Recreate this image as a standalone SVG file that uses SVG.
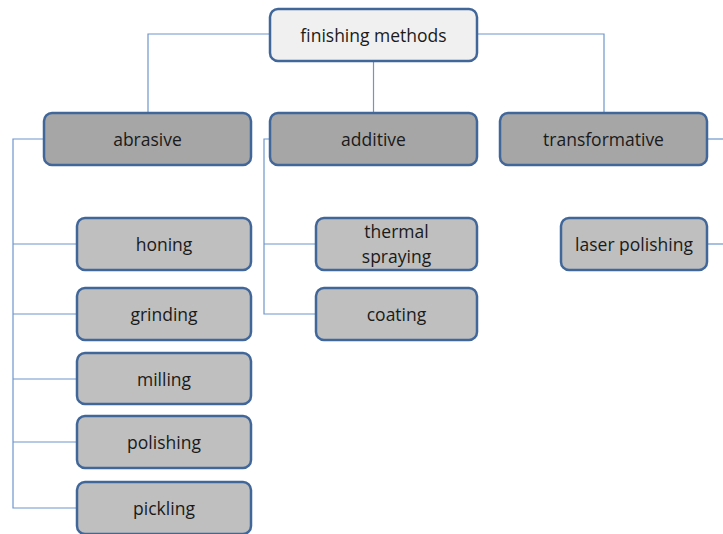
<svg xmlns="http://www.w3.org/2000/svg" width="723" height="534" viewBox="0 0 723 534">
<style>
.box{stroke:#41679a;stroke-width:2.5}
.root{fill:#f0f0f0}
.l1{fill:#a6a6a6}
.l2{fill:#bfbfbf}
.t{font-family:"Open Sans","Noto Sans",sans-serif;font-size:17.5px;fill:#1a1a1a;text-anchor:middle;dominant-baseline:central}
.c{fill:none;stroke:#6e96cc;stroke-width:1.2}
</style>
<rect width="723" height="534" fill="#ffffff"/>
<g id="connectors">
<path class="c" d="M270,34 H148 V113"/>
<path class="c" d="M477,34 H604 V113"/>
<path class="c" d="M373.5,62 V113"/>
<path class="c" d="M44,139 H13 V508 H77 M13,244 H77 M13,314 H77 M13,379 H77 M13,442 H77"/>
<path class="c" d="M270,139 H264 V314 H316 M264,244 H316"/>
<path class="c" d="M708,139 H723"/>
<path class="c" d="M708,244 H723"/>
</g>
<g id="finishing-methods"><rect class="box root" x="270" y="9" width="207" height="52" rx="8"/><text class="t" x="373.5" y="35">finishing methods</text></g>
<g id="abrasive"><rect class="box l1" x="44" y="113" width="207" height="52" rx="8"/><text class="t" x="147.5" y="139">abrasive</text></g>
<g id="additive"><rect class="box l1" x="270" y="113" width="207" height="52" rx="8"/><text class="t" x="373.5" y="139">additive</text></g>
<g id="transformative"><rect class="box l1" x="500" y="113" width="207" height="52" rx="8"/><text class="t" x="603.5" y="139">transformative</text></g>
<g id="honing"><rect class="box l2" x="77" y="218" width="174" height="52" rx="8"/><text class="t" x="164" y="244">honing</text></g>
<g id="grinding"><rect class="box l2" x="77" y="288" width="174" height="52" rx="8"/><text class="t" x="164" y="314">grinding</text></g>
<g id="milling"><rect class="box l2" x="77" y="353" width="174" height="51" rx="8"/><text class="t" x="164" y="379">milling</text></g>
<g id="polishing"><rect class="box l2" x="77" y="416" width="174" height="52" rx="8"/><text class="t" x="164" y="442">polishing</text></g>
<g id="pickling"><rect class="box l2" x="77" y="482" width="174" height="52" rx="8"/><text class="t" x="164" y="508">pickling</text></g>
<g id="thermal-spraying"><rect class="box l2" x="316" y="218" width="161" height="52" rx="8"/><text class="t" x="396.5" y="231">thermal</text><text class="t" x="396.5" y="256">spraying</text></g>
<g id="coating"><rect class="box l2" x="316" y="288" width="161" height="52" rx="8"/><text class="t" x="396.5" y="314">coating</text></g>
<g id="laser-polishing"><rect class="box l2" x="561" y="218" width="146" height="52" rx="8"/><text class="t" x="634" y="244">laser polishing</text></g>
</svg>
